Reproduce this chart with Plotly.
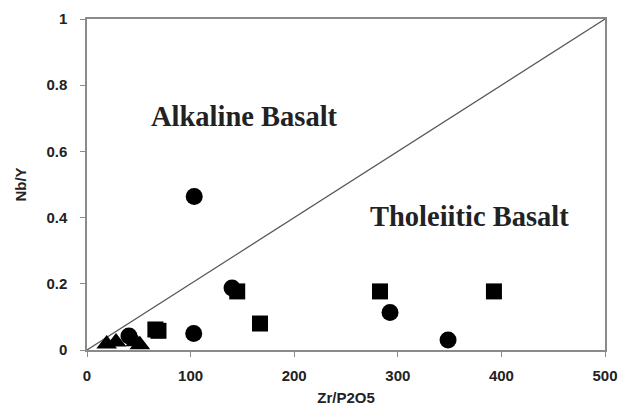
import plotly.graph_objects as go

# Data
circle_x = [103.5, 140, 103, 292.5, 348.5, 40.5]
circle_y = [0.464, 0.187, 0.05, 0.113, 0.03, 0.042]

square_x = [145, 167, 282.8, 392.8, 66, 69]
square_y = [0.177, 0.08, 0.177, 0.177, 0.062, 0.058]

triangle_x = [19, 28, 47, 51]
triangle_y = [0.018, 0.024, 0.025, 0.016]

line_x = [0, 500]
line_y = [0, 1]

x_ticks = [0, 100, 200, 300, 400, 500]
y_ticks = [0, 0.2, 0.4, 0.6, 0.8, 1]
y_tick_text = ["0", "0.2", "0.4", "0.6", "0.8", "1"]

fig = go.Figure()
fig.add_trace(go.Scatter(x=line_x, y=line_y, mode="lines",
                         line=dict(color="#555555", width=1.2), showlegend=False,
                         hoverinfo="skip"))
fig.add_trace(go.Scatter(x=triangle_x, y=triangle_y, mode="markers",
                         marker=dict(symbol="triangle-up", size=18, color="black"),
                         showlegend=False, cliponaxis=False))
fig.add_trace(go.Scatter(x=circle_x, y=circle_y, mode="markers",
                         marker=dict(symbol="circle", size=17, color="black"),
                         showlegend=False, cliponaxis=False))
fig.add_trace(go.Scatter(x=square_x, y=square_y, mode="markers",
                         marker=dict(symbol="square", size=16, color="black"),
                         showlegend=False, cliponaxis=False))

fig.add_annotation(x=152.5, y=0.704, text="<b>Alkaline Basalt</b>", showarrow=False,
                   font=dict(family="Liberation Serif", size=28.5, color="#222222"))
fig.add_annotation(x=369.5, y=0.402, text="<b>Tholeiitic Basalt</b>", showarrow=False,
                   font=dict(family="Liberation Serif", size=28.5, color="#222222"))

axis_common = dict(showgrid=False, zeroline=False, showline=True, linecolor="#8a8a8a",
                   linewidth=1.5, mirror=True, ticks="outside", ticklen=5,
                   tickcolor="#8a8a8a", automargin=False,
                   tickfont=dict(family="Liberation Sans", size=15, color="#222222"))

fig.update_xaxes(range=[0, 500], tickvals=x_ticks, ticktext=[f"<b>{v}</b>" for v in x_ticks],
                 ticklabelstandoff=6,
                 title=dict(text="<b>Zr/P2O5</b>", standoff=10,
                            font=dict(family="Liberation Sans", size=15, color="#222222")),
                 **axis_common)
fig.update_yaxes(range=[0, 1], tickvals=y_ticks,
                 ticktext=[f"<b>{t}</b>" for t in y_tick_text],
                 ticklabelstandoff=10,
                 title=dict(text="<b>Nb/Y</b>", standoff=16,
                            font=dict(family="Liberation Sans", size=15, color="#222222")),
                 **axis_common)

fig.update_layout(width=626, height=418, margin=dict(l=79, r=29, t=11, b=76),
                  plot_bgcolor="white", paper_bgcolor="white")

fig.write_html("out.html")
